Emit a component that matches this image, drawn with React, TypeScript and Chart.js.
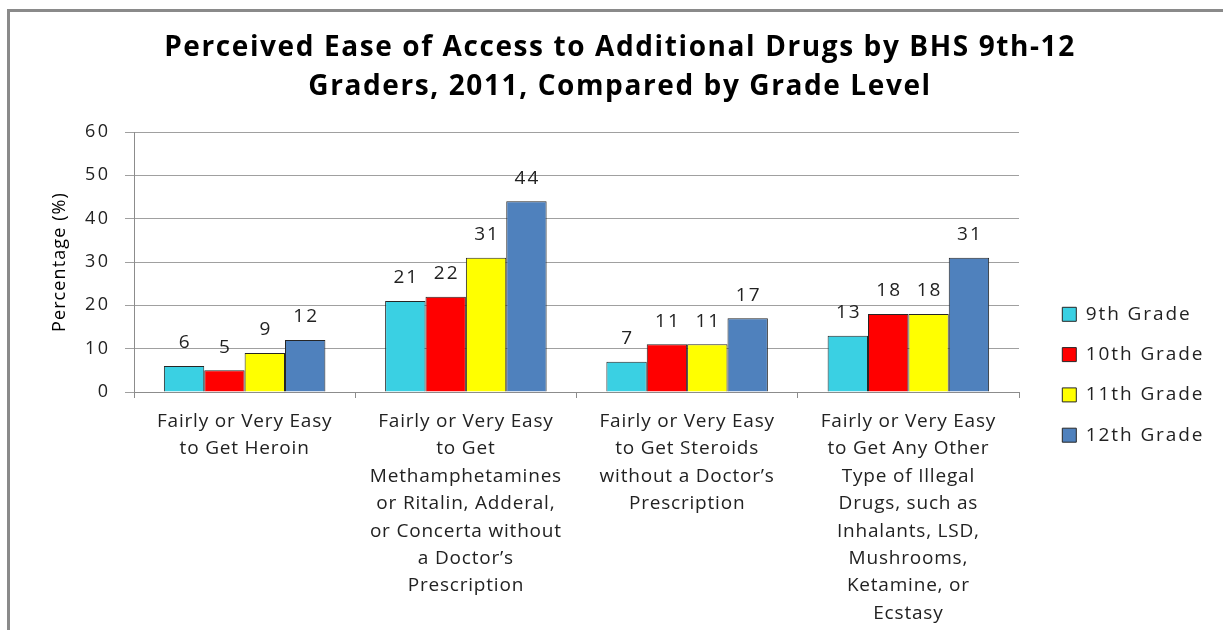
import React, { useEffect, useRef } from 'react';
import { Chart, registerables } from 'chart.js';

Chart.register(...registerables);

const categories: string[][] = [
  ['Fairly or Very Easy', 'to Get Heroin'],
  ['Fairly or Very Easy', 'to Get', 'Methamphetamines', 'or Ritalin, Adderal,', 'or Concerta without', 'a Doctor’s', 'Prescription'],
  ['Fairly or Very Easy', 'to Get Steroids', 'without a Doctor’s', 'Prescription'],
  ['Fairly or Very Easy', 'to Get Any Other', 'Type of Illegal', 'Drugs, such as', 'Inhalants, LSD,', 'Mushrooms,', 'Ketamine, or', 'Ecstasy'],
];

const seriesNames = ['9th Grade', '10th Grade', '11th Grade', '12th Grade'];
const grade9 = [6, 21, 7, 13];
const grade10 = [5, 22, 11, 18];
const grade11 = [9, 31, 11, 18];
const grade12 = [12, 44, 17, 31];
const seriesColors = ['#3AD0E3', '#FF0000', '#FFFF00', '#4F81BD'];

const titleLines = ['Perceived Ease of Access to Additional Drugs by BHS 9th-12', 'Graders, 2011, Compared by Grade Level'];
const yTitle = 'Percentage (%)';
const yMin = 0;
const yMax = 60;
const yStep = 10;

const FONT = '"Open Sans", sans-serif';

function withSpacing(obj: any, method: string, px: number) {
  if (!obj || typeof obj[method] !== 'function' || obj['__ls_' + method]) return;
  const orig = obj[method].bind(obj);
  obj[method] = function (...args: any[]) {
    const ctx = this.ctx;
    const prev = ctx.letterSpacing;
    ctx.letterSpacing = px + 'px';
    try {
      return orig(...args);
    } finally {
      ctx.letterSpacing = prev === undefined ? '0px' : prev;
    }
  };
  obj['__ls_' + method] = true;
}

const textSpacing = {
  id: 'textSpacing',
  beforeDraw(chart: any) {
    withSpacing(chart.titleBlock, 'draw', 1.6);
    withSpacing(chart.legend, 'draw', 1.9);
    withSpacing(chart.scales.y, 'drawLabels', 2.5);
    withSpacing(chart.scales.y, 'drawTitle', 1.1);
    withSpacing(chart.scales.x, 'drawLabels', 0.8);
  },
};

const valueLabels = {
  id: 'valueLabels',
  afterDatasetsDraw(chart: any) {
    const ctx = chart.ctx;
    ctx.save();
    ctx.font = `19px ${FONT}`;
    ctx.letterSpacing = '2px';
    ctx.fillStyle = '#222';
    ctx.textAlign = 'center';
    ctx.textBaseline = 'middle';
    chart.data.datasets.forEach((ds: any, i: number) => {
      const meta = chart.getDatasetMeta(i);
      meta.data.forEach((bar: any, j: number) => {
        ctx.fillText(String(ds.data[j]), bar.x + 1, bar.y - 23);
      });
    });
    ctx.letterSpacing = '0px';
    ctx.restore();
  },
};

const LEGEND_W = 204;
const legendPlacement = {
  id: 'legendPlacement',
  beforeLayout(chart: any) {
    const lg = chart.legend;
    if (lg && !lg.__patched) {
      const origFit = lg.fit.bind(lg);
      lg.fit = function () {
        origFit();
        this.width = LEGEND_W;
      };
      lg.__patched = true;
    }
  },
  afterLayout(chart: any) {
    const lg = chart.legend;
    if (!lg) return;
    lg.left = 1041;
    lg.right = 1223;
    lg.top = 283.5;
    lg.bottom = 630;
    lg.width = lg.right - lg.left;
    lg.height = lg.bottom - lg.top;
  },
};

export default function App() {
  const ref = useRef<HTMLCanvasElement | null>(null);

  useEffect(() => {
    if (!ref.current) return;
    const data = [grade9, grade10, grade11, grade12];
    const chart = new Chart(ref.current, {
      type: 'bar',
      data: {
        labels: categories,
        datasets: seriesNames.map((name, i) => ({
          label: name,
          data: data[i],
          backgroundColor: seriesColors[i],
          borderColor: '#262626',
          borderWidth: 1,
          barPercentage: 1,
          categoryPercentage: 0.73,
        })),
      },
      options: {
        animation: false,
        responsive: false,
        devicePixelRatio: 1,
        layout: { padding: { left: 17, top: 0, right: 0, bottom: 0 } },
        plugins: {
          tooltip: { enabled: false },
          title: {
            display: true,
            text: titleLines,
            color: '#000',
            font: { family: FONT, size: 28, weight: 'bold', lineHeight: 1.37 },
            padding: { top: 29, bottom: 26.3 },
          },
          legend: {
            display: true,
            position: 'right',
            align: 'start',
            labels: {
              color: '#222',
              font: { family: FONT, size: 19 },
              boxWidth: 14,
              boxHeight: 14,
              padding: 21.3,
            },
          },
        },
        scales: {
          x: {
            grid: {
              display: true,
              drawOnChartArea: false,
              drawTicks: true,
              tickLength: 6,
              offset: true,
              color: '#8c8c8c',
            },
            border: { display: true, color: '#8c8c8c', width: 1 },
            ticks: {
              color: '#222',
              font: { family: FONT, size: 19, lineHeight: 1.44 },
              padding: 10,
              maxRotation: 0,
              minRotation: 0,
              autoSkip: false,
            },
            afterFit(scale: any) {
              scale.height = 238;
            },
          },
          y: {
            min: yMin,
            max: yMax,
            ticks: {
              stepSize: yStep,
              color: '#222',
              font: { family: FONT, size: 18 },
              padding: 14.5,
            },
            grid: {
              color: '#a0a0a0',
              tickLength: 9,
              drawTicks: true,
            },
            border: { display: true, color: '#8c8c8c', width: 1 },
            title: {
              display: true,
              text: yTitle,
              color: '#000',
              font: { family: FONT, size: 18 },
              padding: { top: 32, bottom: 0 },
            },
            afterFit(scale: any) {
              scale.width = 117;
            },
          },
        },
      },
      plugins: [textSpacing, valueLabels, legendPlacement],
    } as any);
    return () => chart.destroy();
  }, []);

  return (
    <div style={{ position: 'fixed', left: 0, top: 0, width: 1223, height: 630, overflow: 'hidden', background: '#fff' }}>
      <div
        style={{
          position: 'absolute',
          left: 7,
          top: 9,
          width: 1400,
          height: 800,
          borderLeft: '3px solid #8a8a8a',
          borderTop: '3px solid #8a8a8a',
        }}
      />
      <canvas ref={ref} width={1223} height={630} style={{ position: 'absolute', left: 0, top: 0, width: 1223, height: 630 }} />
    </div>
  );
}
